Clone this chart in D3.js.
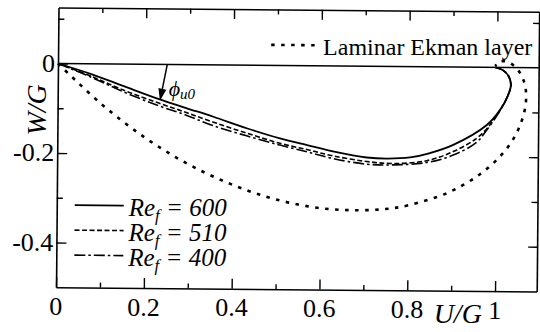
<!DOCTYPE html>
<html><head>
<script src="https://cdn.jsdelivr.net/npm/d3@7"></script>
</head><body style="margin:0">
<svg id="c" width="540" height="332"></svg>
<script>
// ---- data ----
const xMajor = [0, 0.2, 0.4, 0.6, 0.8, 1];
const xMinor = [0.1, 0.3, 0.5, 0.7, 0.9];
const yMajor = [0, -0.2, -0.4];
const yMinor = [0.1, -0.1, -0.3];
const xTickLabels = ["0", "0.2", "0.4", "0.6", "0.8", "1"];
const yTickLabels = ["0", "-0.2", "-0.4"];
const legendValues = ["600", "510", "400"];

// [U/G, W/G]
const re600 = [[0,0],[0.076,-0.023],[0.152,-0.050],[0.229,-0.077],[0.293,-0.097],[0.355,-0.116],[0.431,-0.141],[0.507,-0.163],[0.571,-0.178],[0.628,-0.191],[0.705,-0.204],[0.751,-0.206],[0.804,-0.203],[0.845,-0.194],[0.902,-0.174],[0.978,-0.129],[1.008,-0.095],[1.025,-0.064],[1.032,-0.040],[1.027,-0.020],[1.013,-0.006],[0.996,0]];
const re510 = [[0,0],[0.076,-0.028],[0.152,-0.059],[0.229,-0.086],[0.293,-0.107],[0.355,-0.128],[0.431,-0.152],[0.507,-0.174],[0.571,-0.188],[0.628,-0.201],[0.705,-0.213],[0.766,-0.217],[0.842,-0.210],[0.902,-0.189],[0.955,-0.159],[0.985,-0.129],[1.008,-0.095],[1.025,-0.064],[1.032,-0.040],[1.027,-0.020],[1.013,-0.006],[0.996,0]];
const re400 = [[0,0],[0.076,-0.030],[0.152,-0.063],[0.229,-0.092],[0.293,-0.113],[0.355,-0.136],[0.431,-0.158],[0.507,-0.178],[0.571,-0.193],[0.628,-0.207],[0.705,-0.219],[0.766,-0.220],[0.842,-0.214],[0.902,-0.197],[0.955,-0.168],[0.978,-0.140],[1.008,-0.097],[1.025,-0.064],[1.032,-0.040],[1.027,-0.020],[1.013,-0.006],[0.996,0]];
const laminarEkman = [[0,0],[0.100,-0.090],[0.198,-0.163],[0.292,-0.219],[0.383,-0.261],[0.468,-0.291],[0.547,-0.310],[0.620,-0.320],[0.687,-0.322],[0.747,-0.319],[0.801,-0.310],[0.891,-0.281],[0.958,-0.243],[1.006,-0.202],[1.038,-0.161],[1.056,-0.123],[1.065,-0.090],[1.067,-0.061],[1.064,-0.038],[1.057,-0.020],[1.049,-0.007],[1.036,0.006],[1.025,0.012],[1.015,0.014],[1.007,0.013],[1.002,0.011],[0.998,0.006],[0.997,0.003]];

// ---- drawing ----
const FONT = '"Liberation Serif"';
const svg = d3.select("#c");
const x = d3.scaleLinear().domain([0, 1.095]).range([58, 538.7]);
const y = d3.scaleLinear().domain([-0.5, 0.125]).range([287.25, 7.56]);
const ANG = 0.5, ox = x(0), oy = y(0);
const cs = Math.cos(ANG * Math.PI / 180), sn = Math.sin(ANG * Math.PI / 180);
const rot = (px, py) => [ox + (px - ox) * cs - (py - oy) * sn, oy + (px - ox) * sn + (py - oy) * cs];

const g = svg.append("g").attr("transform", `rotate(${ANG} ${ox} ${oy})`);
const tl = svg.append("g");

function styleAxis(sel, keepDomain) {
  if (keepDomain) sel.select(".domain").attr("stroke", "#000").attr("stroke-width", 1.6);
  else sel.select(".domain").remove();
  sel.selectAll(".tick line").attr("stroke", "#000").attr("stroke-width", 1.4);
  sel.selectAll(".tick text").remove();
}
function txt(px, py, size) {
  const p = rot(px, py);
  return tl.append("text").attr("x", p[0]).attr("y", p[1])
    .style("font-family", FONT).style("font-size", size + "px").style("fill", "#000");
}

// bottom
g.append("g").attr("transform", `translate(0,${y(-0.5)})`)
  .call(d3.axisBottom(x).tickValues(xMajor).tickFormat("").tickSizeInner(-10).tickSizeOuter(0))
  .call(s => styleAxis(s, true));
g.append("g").attr("transform", `translate(0,${y(-0.5)})`)
  .call(d3.axisBottom(x).tickValues(xMinor).tickFormat("").tickSizeInner(-5).tickSizeOuter(0))
  .call(s => styleAxis(s, false));
xMajor.forEach((v, i) => txt(x(v), y(-0.5) + 27.5, 26).attr("text-anchor", "middle").text(xTickLabels[i]));
// top
g.append("g").attr("transform", `translate(0,${y(0.125)})`)
  .call(d3.axisTop(x).tickValues(xMajor.slice(1)).tickFormat("").tickSizeInner(-10).tickSizeOuter(0))
  .call(s => styleAxis(s, true));
g.append("g").attr("transform", `translate(0,${y(0.125)})`)
  .call(d3.axisTop(x).tickValues(xMinor).tickFormat("").tickSizeInner(-5).tickSizeOuter(0))
  .call(s => styleAxis(s, false));
// left
g.append("g").attr("transform", `translate(${x(0)},0)`)
  .call(d3.axisLeft(y).tickValues(yMajor).tickFormat("").tickSizeInner(-10).tickSizeOuter(0))
  .call(s => styleAxis(s, true));
g.append("g").attr("transform", `translate(${x(0)},0)`)
  .call(d3.axisLeft(y).tickValues(yMinor).tickFormat("").tickSizeInner(-6).tickSizeOuter(0))
  .call(s => styleAxis(s, false));
yMajor.forEach((v, i) => txt(x(0) - 3, y(v) + 8.5, 26).attr("text-anchor", "end").text(yTickLabels[i]));
// right
g.append("g").attr("transform", `translate(${x(1.095)},0)`)
  .call(d3.axisRight(y).tickValues(yMajor.slice(1)).tickFormat("").tickSizeInner(-9).tickSizeOuter(0))
  .call(s => styleAxis(s, true));
g.append("g").attr("transform", `translate(${x(1.095)},0)`)
  .call(d3.axisRight(y).tickValues(yMinor).tickFormat("").tickSizeInner(-6).tickSizeOuter(0))
  .call(s => styleAxis(s, false));

// zero line
g.append("line").attr("x1", x(0)).attr("x2", x(1.095)).attr("y1", y(0)).attr("y2", y(0))
  .attr("stroke", "#000").attr("stroke-width", 1.6);

const line = d3.line().x(d => x(d[0])).y(d => y(d[1])).curve(d3.curveCatmullRom.alpha(0.5));
const styles = [
  { data: re600, dash: null, w: 1.8 },
  { data: re510, dash: "5,2.5", w: 1.6 },
  { data: re400, dash: "11,3,2.5,3", w: 1.6 }
];
styles.forEach(s => {
  g.append("path").attr("d", line(s.data)).attr("fill", "none").attr("stroke", "#000")
    .attr("stroke-width", s.w).attr("stroke-dasharray", s.dash);
});
g.append("path").attr("d", line(laminarEkman)).attr("fill", "none").attr("stroke", "#000")
  .attr("stroke-width", 2.6).attr("stroke-dasharray", "3.5,6.5");

// legend (lower left)
const legY = [205, 230, 255];
styles.forEach((s, i) => {
  g.append("line").attr("x1", 76).attr("x2", 125).attr("y1", legY[i]).attr("y2", legY[i])
    .attr("stroke", "#000").attr("stroke-width", s.w).attr("stroke-dasharray", s.dash);
  const t = txt(130, legY[i] + 10, 25).style("font-style", "italic");
  t.append("tspan").text("Re");
  t.append("tspan").attr("dy", 5).style("font-size", "17px").text("f");
  t.append("tspan").attr("dy", -5).text(" = " + legendValues[i]);
});

// laminar legend (top right)
g.append("line").attr("x1", 271).attr("x2", 318).attr("y1", 43).attr("y2", 43)
  .attr("stroke", "#000").attr("stroke-width", 2.6).attr("stroke-dasharray", "3.5,6.5");
txt(323, 53, 24).text("Laminar Ekman layer");

// phi annotation arrow
const S = [x(0.249), y(0)], T = [x(0.233), y(-0.081)];
const len = Math.hypot(T[0] - S[0], T[1] - S[1]);
const d = [(T[0] - S[0]) / len, (T[1] - S[1]) / len], n = [-d[1], d[0]];
const B = [T[0] - d[0] * 12, T[1] - d[1] * 12];
g.append("line").attr("x1", S[0]).attr("y1", S[1]).attr("x2", B[0]).attr("y2", B[1]).attr("stroke", "#000").attr("stroke-width", 1.5);
g.append("path").attr("d", `M${T[0]},${T[1]}L${B[0] + n[0] * 4},${B[1] + n[1] * 4}L${B[0] - n[0] * 4},${B[1] - n[1] * 4}Z`).attr("fill", "#000");
const ph = txt(169, 95, 22).style("font-style", "italic");
ph.append("tspan").text("\u03D5");
ph.append("tspan").attr("dy", 3).style("font-size", "15px").text("u0");

// axis titles
const wp = rot(46, 110);
tl.append("text").attr("transform", `translate(${wp[0]},${wp[1]}) rotate(-90)`).attr("text-anchor", "middle")
  .style("font-family", FONT).style("fill", "#000")
  .style("font-size", "28px").style("font-style", "italic").text("W/G");
txt(460, 320, 28).attr("text-anchor", "middle").style("font-style", "italic").text("U/G");
</script>
</body></html>
